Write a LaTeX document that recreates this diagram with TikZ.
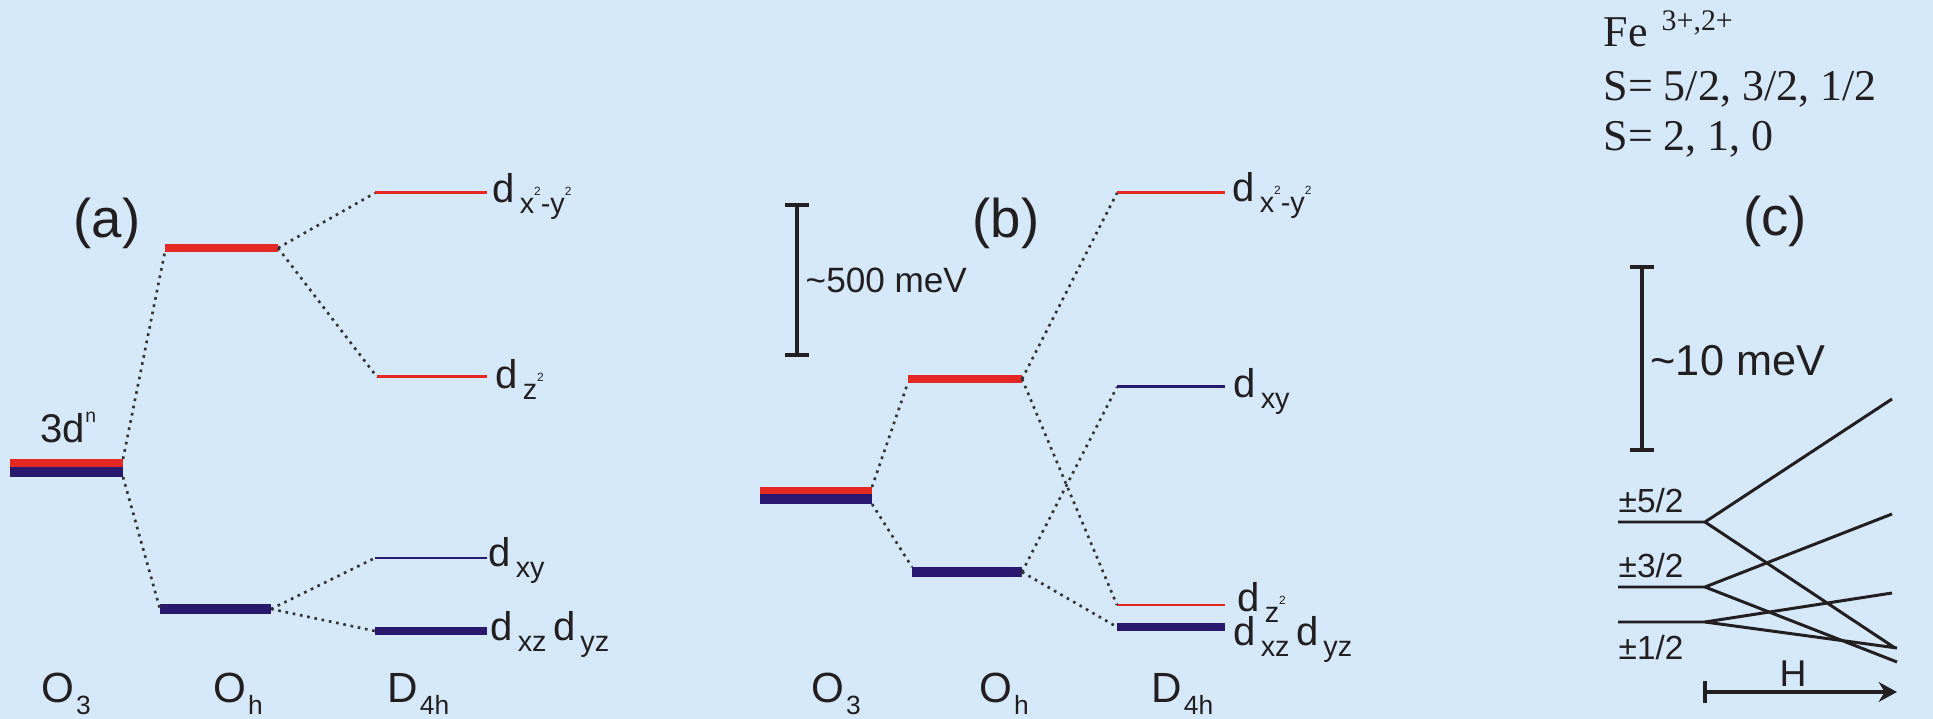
\documentclass[tikz,border=0pt]{standalone}
\usepackage{fontspec}
\setmainfont{Liberation Sans}
\newfontfamily\timesfam{Liberation Serif}
\usetikzlibrary{arrows.meta}
\definecolor{cfbg}{HTML}{D5E9FB}
\definecolor{cfred}{HTML}{E42824}
\definecolor{cfblue}{HTML}{28186E}
\definecolor{cfink}{HTML}{231F20}
\definecolor{cfdot}{HTML}{333333}
\newcommand{\orbsub}[1]{\kern0.12em\raisebox{-0.5ex}{\fontsize{8.2}{8.2}\selectfont #1}}
\newcommand{\sqsup}{\raisebox{1.2ex}{\fontsize{3.4}{3.4}\selectfont 2}}
\newcommand{\grpsub}[1]{\kern0.04em\raisebox{-0.5ex}{\fontsize{7.5}{7.5}\selectfont #1}}

\begin{document}
\begin{tikzpicture}[x=0.01cm,y=-0.01cm,
    lvl/.style={inner sep=0pt,outer sep=0pt,minimum height=#1},
    orb/.style={anchor=base west,inner sep=0pt,font=\fontsize{11.4}{12}\selectfont,text=cfink},
    grp/.style={anchor=base west,inner sep=0pt,font=\fontsize{12}{13}\selectfont,text=cfink},
    tag/.style={anchor=base,inner sep=0pt,font=\fontsize{15.5}{16}\selectfont,text=cfink},
    link/.style={cfdot,line width=0.75pt,dash pattern=on 0.75pt off 1.35pt},
    ruler/.style={cfink,line width=1.2pt,{Bar[width=6.6pt]}-{Bar[width=6.6pt]}},
    fan/.style={cfink,line width=0.85pt},
    spinlab/.style={anchor=base west,inner sep=0pt,font=\fontsize{9.5}{10}\selectfont,text=cfink},
    fetext/.style={anchor=base west,inner sep=0pt,font=\timesfam\fontsize{12.5}{13}\selectfont,text=cfink}]
  \useasboundingbox[fill=cfbg] (0,0) rectangle (1933,719);

  % (a) levels
  \node[lvl=2.3pt,minimum width=1.13cm,fill=cfred] (aO3r) at (66.5,463) {};
  \node[lvl=2.85pt,minimum width=1.13cm,fill=cfblue] (aO3b) at (66.5,472) {};
  \node[lvl=2pt,minimum width=1.13cm,fill=cfred] (aOhUp) at (221.5,248) {};
  \node[lvl=2.85pt,minimum width=1.11cm,fill=cfblue] (aOhLo) at (215.5,609) {};
  \node[lvl=0.85pt,minimum width=1.12cm,fill=cfred] (aX2Y2) at (431,193) {};
  \node[lvl=0.85pt,minimum width=1.10cm,fill=cfred] (aZ2) at (432,377) {};
  \node[lvl=0.85pt,minimum width=1.12cm,fill=cfblue] (aXY) at (431,558) {};
  \node[lvl=2pt,minimum width=1.12cm,fill=cfblue] (aXZ) at (431,631) {};
  \draw[link] (aO3r.north east) -- (aOhUp.south west);
  \draw[link] (aO3b.south east) -- (aOhLo.west);
  \draw[link] (aOhUp.east) -- (aX2Y2.west);
  \draw[link] (aOhUp.east) -- (aZ2.west);
  \draw[link] (aOhLo.east) -- (aXY.west);
  \draw[link] (aOhLo.east) -- (aXZ.west);
  \node[orb] (aX2Y2lab) at (492,203) {d\orbsub{x\sqsup-y\sqsup}};
  \node[orb] (aZ2lab) at (495,389) {d\orbsub{z\sqsup}};
  \node[orb] (aXYlab) at (488,567) {d\orbsub{xy}};
  \node[orb] (aXZlab) at (490,641) {d\orbsub{xz}\,d\orbsub{yz}};
  \node[orb] (adn) at (40,443) {3d\raisebox{0.5em}{\fontsize{5.5}{5.5}\selectfont n}};
  \node[tag] (taga) at (107,238) {(a)};
  \node[grp] (aO3g) at (41,703) {O\grpsub{3}};
  \node[grp] (aOhg) at (213,703) {O\grpsub{h}};
  \node[grp] (aD4g) at (387,703) {D\grpsub{4h}};

  % (b) levels
  \node[lvl=2pt,minimum width=1.12cm,fill=cfred] (bO3r) at (816,490.5) {};
  \node[lvl=2.85pt,minimum width=1.12cm,fill=cfblue] (bO3b) at (816,499) {};
  \node[lvl=2pt,minimum width=1.14cm,fill=cfred] (bOhUp) at (965,379) {};
  \node[lvl=2.85pt,minimum width=1.10cm,fill=cfblue] (bOhLo) at (967,572) {};
  \node[lvl=0.85pt,minimum width=1.08cm,fill=cfred] (bX2Y2) at (1171,193) {};
  \node[lvl=0.85pt,minimum width=1.08cm,fill=cfblue] (bXY) at (1171,387) {};
  \node[lvl=0.85pt,minimum width=1.08cm,fill=cfred] (bZ2) at (1171,605) {};
  \node[lvl=2pt,minimum width=1.08cm,fill=cfblue] (bXZ) at (1171,627) {};
  \draw[link] (bO3r.north east) -- (bOhUp.south west);
  \draw[link] (bO3b.south east) -- (bOhLo.north west);
  \draw[link] (bOhUp.east) -- (bX2Y2.west);
  \draw[link] (bOhUp.east) -- (bZ2.west);
  \draw[link] (bOhLo.east) -- (bXY.west);
  \draw[link] (bOhLo.east) -- (bXZ.west);
  \node[orb] (bX2Y2lab) at (1232,202) {d\orbsub{x\sqsup-y\sqsup}};
  \node[orb] (bXYlab) at (1233,398) {d\orbsub{xy}};
  \node[orb] (bZ2lab) at (1237,612) {d\orbsub{z\sqsup}};
  \node[orb] (bXZlab) at (1233,646) {d\orbsub{xz}\,d\orbsub{yz}};
  \coordinate (bRulTop) at (797,203);
  \coordinate (bRulBot) at (797,357);
  \draw[ruler] (bRulTop) -- (bRulBot);
  \node[anchor=base west,inner sep=0pt,font=\fontsize{10}{11}\selectfont,text=cfink] (bRulLab) at (805,293) {\textasciitilde500 meV};
  \node[tag] (tagb) at (1006,238) {(b)};
  \node[grp] (bO3g) at (811,703) {O\grpsub{3}};
  \node[grp] (bOhg) at (979,703) {O\grpsub{h}};
  \node[grp] (bD4g) at (1151,703) {D\grpsub{4h}};

  % (c) Zeeman fan
  \node[fetext] (feion) at (1603,47) {Fe\hspace{4pt}\raisebox{4.8pt}{\fontsize{8.5}{9}\selectfont 3+,2+}};
  \node[fetext] (spinhalf) at (1603,101) {S= 5/2, 3/2, 1/2};
  \node[fetext] (spinint) at (1603,151) {S= 2, 1, 0};
  \node[tag] (tagc) at (1775,236) {(c)};
  \coordinate (cRulTop) at (1642,265);
  \coordinate (cRulBot) at (1642,452);
  \draw[ruler] (cRulTop) -- (cRulBot);
  \node[anchor=base west,inner sep=0pt,font=\fontsize{12.3}{13}\selectfont,text=cfink] (cRulLab) at (1650,376) {\textasciitilde10 meV};
  \coordinate (cM5) at (1618,522);
  \coordinate (cM5k) at (1705,522);
  \coordinate (cM5up) at (1892,399);
  \coordinate (cM5dn) at (1895,648);
  \coordinate (cM3) at (1618,587);
  \coordinate (cM3k) at (1705,587);
  \coordinate (cM3up) at (1892,514);
  \coordinate (cM3dn) at (1897,662);
  \coordinate (cM1) at (1618,622);
  \coordinate (cM1k) at (1705,622);
  \coordinate (cM1up) at (1892,593);
  \coordinate (cM1dn) at (1897,648);
  \draw[fan] (cM5) -- (cM5k) -- (cM5up);
  \draw[fan] (cM5k) -- (cM5dn);
  \draw[fan] (cM3) -- (cM3k) -- (cM3up);
  \draw[fan] (cM3k) -- (cM3dn);
  \draw[fan] (cM1) -- (cM1k) -- (cM1up);
  \draw[fan] (cM1k) -- (cM1dn);
  \node[spinlab] (cM5lab) at (1618,513) {±5/2};
  \node[spinlab] (cM3lab) at (1618,578) {±3/2};
  \node[spinlab] (cM1lab) at (1618,660) {±1/2};
  \coordinate (cHfrom) at (1703,692);
  \coordinate (cHto) at (1897,692);
  \draw[cfink,line width=1.1pt,{Bar[width=6.2pt]}-{Stealth[length=5.2pt,width=5.6pt]}] (cHfrom) -- (cHto);
  \node[anchor=base,inner sep=0pt,font=\fontsize{10.6}{11}\selectfont,text=cfink] (cHlab) at (1793,687) {H};
\end{tikzpicture}
\end{document}
